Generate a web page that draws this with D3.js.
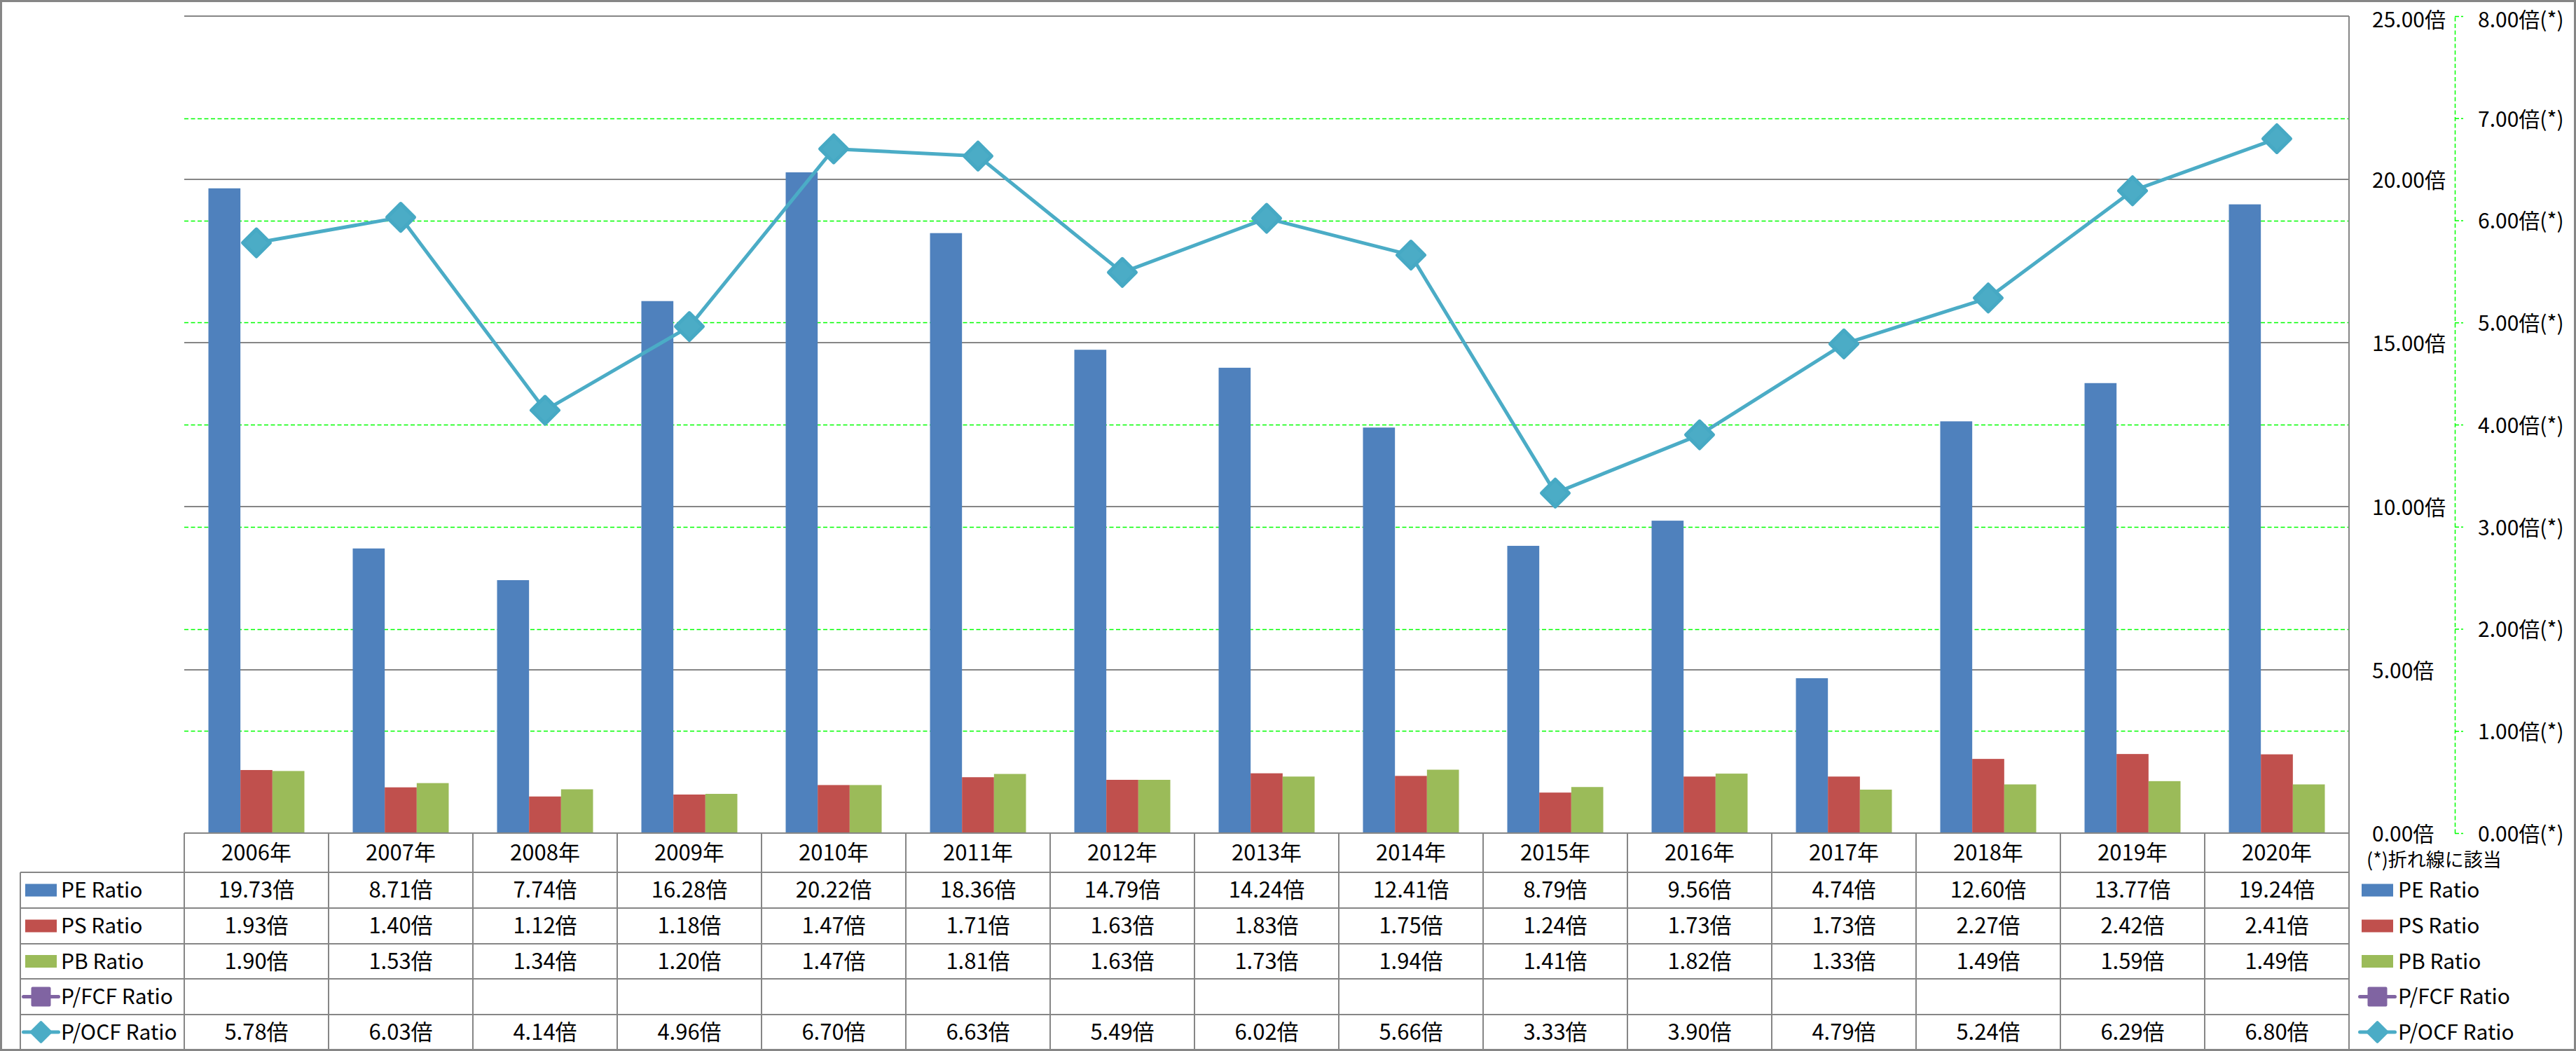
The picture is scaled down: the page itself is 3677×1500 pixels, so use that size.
<!DOCTYPE html>
<html>
<head>
<meta charset="utf-8">
<script src="https://cdn.jsdelivr.net/npm/d3@7"></script>
<style>
  html, body { margin: 0; padding: 0; background: #fff; }
  svg { display: block; font-family: "Noto Sans CJK JP", "Noto Sans", sans-serif; }
</style>
</head>
<body>
<svg id="chart" width="3677" height="1500"></svg>
<script>
const years = ["2006年","2007年","2008年","2009年","2010年","2011年","2012年","2013年","2014年","2015年","2016年","2017年","2018年","2019年","2020年"];
const peRatio = [19.73, 8.71, 7.74, 16.28, 20.22, 18.36, 14.79, 14.24, 12.41, 8.79, 9.56, 4.74, 12.60, 13.77, 19.24];
const psRatio = [1.93, 1.40, 1.12, 1.18, 1.47, 1.71, 1.63, 1.83, 1.75, 1.24, 1.73, 1.73, 2.27, 2.42, 2.41];
const pbRatio = [1.90, 1.53, 1.34, 1.20, 1.47, 1.81, 1.63, 1.73, 1.94, 1.41, 1.82, 1.33, 1.49, 1.59, 1.49];
const pfcfRatio = [null, null, null, null, null, null, null, null, null, null, null, null, null, null, null];
const pocfRatio = [5.78, 6.03, 4.14, 4.96, 6.70, 6.63, 5.49, 6.02, 5.66, 3.33, 3.90, 4.79, 5.24, 6.29, 6.80];
const seriesNames = ["PE Ratio", "PS Ratio", "PB Ratio", "P/FCF Ratio", "P/OCF Ratio"];
const leftTicks = [0, 5, 10, 15, 20, 25];
const rightTicks = [0, 1, 2, 3, 4, 5, 6, 7, 8];
const noteText = "(*)折れ線に該当";

const colors = {"PE Ratio":"#4F81BD","PS Ratio":"#C0504D","PB Ratio":"#9BBB59","P/FCF Ratio":"#8064A2","P/OCF Ratio":"#4BACC6"};
const GRAY = "#868686";

const svg = d3.select("#chart");
const X0 = 263, X1 = 3353, YT = 23, YB = 1189;

const x = d3.scaleBand().domain(years).range([X0, X1]).padding(0);
const bw = x.bandwidth();
const groupW = bw * 137 / 206;
const barKeys = ["PE Ratio","PS Ratio","PB Ratio"];
const xs = d3.scaleBand().domain(barKeys).range([0, groupW]).padding(0);
const yL = d3.scaleLinear().domain([0, 25]).range([YB, YT]);
const yR = d3.scaleLinear().domain([0, 8]).range([YB, YT]);

// outer frame
svg.append("rect").attr("x",1.5).attr("y",1.5).attr("width",3674).attr("height",1497)
  .attr("fill","#fff").attr("stroke",GRAY).attr("stroke-width",3);

// green dashed secondary gridlines
svg.append("g").selectAll("line").data(rightTicks.filter(t => t > 0 && t < 8)).join("line")
  .attr("x1", X0).attr("x2", X1).attr("y1", d => Math.round(yR(d)) + 0.5).attr("y2", d => Math.round(yR(d)) + 0.5)
  .attr("stroke", "#00FF00").attr("stroke-width", 1.5).attr("stroke-dasharray", "6,3.5");

// gray primary gridlines
svg.append("g").selectAll("line").data(leftTicks.filter(t => t > 0)).join("line")
  .attr("x1", X0).attr("x2", X1).attr("y1", d => Math.round(yL(d))).attr("y2", d => Math.round(yL(d)))
  .attr("stroke", GRAY).attr("stroke-width", 2);

// bars
const barData = [];
years.forEach((yr, i) => {
  [peRatio[i], psRatio[i], pbRatio[i]].forEach((v, k) => barData.push({yr, key: barKeys[k], v}));
});
svg.append("g").selectAll("rect").data(barData).join("rect")
  .attr("x", d => x(d.yr) + (bw - groupW) / 2 + xs(d.key))
  .attr("width", xs.bandwidth())
  .attr("y", d => yL(d.v))
  .attr("height", d => yL(0) - yL(d.v))
  .attr("fill", d => colors[d.key]);

// P/OCF line
const linePts = years.map((yr, i) => ({yr, v: pocfRatio[i]})).filter(d => d.v != null);
svg.append("path").datum(linePts)
  .attr("d", d3.line().x(d => x(d.yr) + bw / 2).y(d => yR(d.v)))
  .attr("fill", "none").attr("stroke", colors["P/OCF Ratio"]).attr("stroke-width", 5)
  .attr("stroke-linejoin", "round").attr("stroke-linecap", "round");

const diamond = d3.symbol().type(d3.symbolSquare).size(760)();
svg.append("g").selectAll("path").data(linePts).join("path")
  .attr("d", diamond)
  .attr("transform", d => `translate(${x(d.yr) + bw / 2},${yR(d.v)}) rotate(45)`)
  .attr("fill", "#4BACC6").attr("stroke", "#46A9C4").attr("stroke-width", 5).attr("stroke-linejoin", "round");

// primary axis (right of plot)
const axL = d3.axisRight(yL).tickValues(leftTicks).tickSize(0).tickPadding(33)
  .tickFormat(d => d.toFixed(2) + "倍");
const gL = svg.append("g").attr("transform", `translate(${X1},0)`).call(axL);
gL.select(".domain").remove();
gL.selectAll("text").attr("font-size", 30).attr("fill", "#000").attr("font-family", "Noto Sans CJK JP")
  .attr("dy", d => d === 25 ? "0.5em" : "0.38em");

// primary axis line + table right border
svg.append("line").attr("x1", X1).attr("x2", X1).attr("y1", YT).attr("y2", 1498)
  .attr("stroke", GRAY).attr("stroke-width", 2);
// top border line
svg.append("line").attr("x1", X0).attr("x2", X1).attr("y1", YT).attr("y2", YT)
  .attr("stroke", GRAY).attr("stroke-width", 2);

// secondary axis
const axR = d3.axisRight(yR).tickValues(rightTicks).tickSize(12).tickPadding(21).tickSizeOuter(0)
  .tickFormat(d => d.toFixed(2) + "倍(*)");
const gR = svg.append("g").attr("transform", "translate(3504,0)").call(axR);
gR.select(".domain").attr("stroke", "#00FF00").attr("stroke-width", 1.5).attr("stroke-dasharray", "6,3.5");
gR.selectAll(".tick line").attr("stroke", "#00FF00").attr("stroke-width", 1.5).attr("stroke-dasharray", "6,3");
gR.selectAll("text").attr("font-size", 30).attr("fill", "#000").attr("font-family", "Noto Sans CJK JP")
  .attr("dy", d => d === 8 ? "0.5em" : "0.38em");

// data table
const rowTop = [1245, 1296, 1347, 1397, 1448];
const rowBot = [1296, 1347, 1397, 1448, 1498];
const LX = 29;
const tbl = svg.append("g");
// horizontal lines
tbl.selectAll("line.h").data([YB].concat(rowTop)).join("line").attr("class","h")
  .attr("x1", (d, i) => i === 0 ? X0 : LX).attr("x2", X1)
  .attr("y1", d => d).attr("y2", d => d)
  .attr("stroke", GRAY).attr("stroke-width", 2);
// vertical lines
tbl.selectAll("line.v").data(years.map(y => x(y))).join("line").attr("class","v")
  .attr("x1", d => d).attr("x2", d => d).attr("y1", YB).attr("y2", 1498)
  .attr("stroke", GRAY).attr("stroke-width", 2);
tbl.append("line").attr("x1", LX).attr("x2", LX).attr("y1", 1245).attr("y2", 1498)
  .attr("stroke", GRAY).attr("stroke-width", 2);

// header years
tbl.selectAll("text.yr").data(years).join("text").attr("class","yr")
  .attr("x", d => x(d) + bw / 2).attr("y", (YB + 1245) / 2)
  .attr("dy", "0.35em").attr("text-anchor", "middle")
  .attr("font-size", 31).text(d => d);

const seriesVals = [peRatio, psRatio, pbRatio, pfcfRatio, pocfRatio];
seriesVals.forEach((arr, r) => {
  const cy = (rowTop[r] + rowBot[r]) / 2;
  tbl.append("g").selectAll("text").data(years.map((yr, i) => ({yr, v: arr[i]})).filter(d => d.v != null)).join("text")
    .attr("x", d => x(d.yr) + bw / 2).attr("y", cy).attr("dy", "0.35em")
    .attr("text-anchor", "middle").attr("font-size", 31)
    .text(d => d.v.toFixed(2) + "倍");
});

// legend key drawer
function drawKey(g, name, cx, cy) {
  const c = colors[name];
  if (name === "P/FCF Ratio" || name === "P/OCF Ratio") {
    g.append("line").attr("x1", cx - 25).attr("x2", cx + 25).attr("y1", cy).attr("y2", cy)
      .attr("stroke", c).attr("stroke-width", 5).attr("stroke-linecap", "round");
    if (name === "P/FCF Ratio") {
      g.append("rect").attr("x", cx - 12).attr("y", cy - 12).attr("width", 24).attr("height", 24)
        .attr("fill", c).attr("stroke", c).attr("stroke-width", 4).attr("stroke-linejoin", "round");
    } else {
      g.append("path").attr("d", d3.symbol().type(d3.symbolSquare).size(380)())
        .attr("transform", `translate(${cx},${cy}) rotate(45)`)
        .attr("fill", c).attr("stroke", c).attr("stroke-width", 4).attr("stroke-linejoin", "round");
    }
  } else {
    g.append("rect").attr("x", cx - 22.5).attr("y", cy - 9).attr("width", 45).attr("height", 18).attr("fill", c);
  }
}

// left legend in table
seriesNames.forEach((name, r) => {
  const cy = (rowTop[r] + rowBot[r]) / 2;
  const g = svg.append("g");
  drawKey(g, name, 58.5, cy);
  g.append("text").attr("x", 87).attr("y", cy).attr("dy", "0.35em").attr("font-size", 30).text(name);
});

// right legend
svg.append("text").attr("x", 3378).attr("y", 1228).attr("dy", "0.35em").attr("font-size", 27).text(noteText);
seriesNames.forEach((name, r) => {
  const cy = (rowTop[r] + rowBot[r]) / 2;
  const g = svg.append("g");
  drawKey(g, name, 3393.5, cy);
  g.append("text").attr("x", 3423).attr("y", cy).attr("dy", "0.35em").attr("font-size", 30).text(name);
});
</script>
</body>
</html>
